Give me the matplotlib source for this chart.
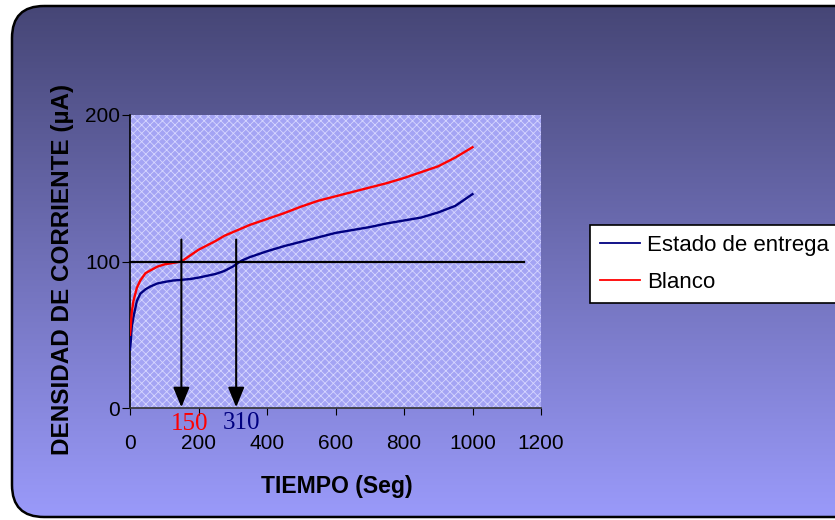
import numpy as np
import matplotlib
matplotlib.use("Agg")
import matplotlib.pyplot as plt
from matplotlib.patches import FancyBboxPatch, Rectangle

# Current density over time for both samples
tiempo = [0, 2, 5, 10, 20, 30, 45, 60, 80, 100, 125, 150, 175, 200, 250, 275,
          300, 325, 350, 400, 450, 500, 550, 600, 650, 700, 750, 800, 850,
          900, 950, 1000]
estado_entrega = [40, 45, 55, 62, 73, 78, 81, 83, 85, 86, 87, 87.5, 88, 89,
                  91.5, 93.5, 96.5, 100.5, 103, 107, 110.5, 113.5, 116.5,
                  119.5, 121.5, 123.5, 126, 128, 130, 133.5, 138, 146]
blanco = [50, 55, 65, 73, 82, 87, 92, 94, 96.5, 98, 99, 100, 104, 108, 114,
          117.5, 120, 122.5, 125, 129, 133, 137.5, 141.5, 144.5, 147.5, 150.5,
          153.5, 157, 161, 165, 171, 178]

series_names = ["Estado de entrega", "Blanco"]
series_colors = ["#000080", "#ff0000"]

x_ticks = [0, 200, 400, 600, 800, 1000, 1200]
y_ticks = [0, 100, 200]

ref_level = 100
ref_end = 1150
cross_times = [150, 310]
cross_colors = ["#ff0000", "#000080"]
arrow_top = 115

W, H = 835, 520
fig = plt.figure(figsize=(W / 100, H / 100), dpi=100)

SANS = ["Liberation Sans", "DejaVu Sans"]
SERIF = ["Liberation Serif", "DejaVu Serif"]

# Rounded gradient panel behind everything
bg = fig.add_axes([0, 0, 1, 1], zorder=-10)
bg.set_xlim(0, W)
bg.set_ylim(H, 0)
bg.axis("off")
top_c = np.array([0x46, 0x46, 0x76]) / 255
bot_c = np.array([0x9a, 0x9a, 0xfa]) / 255
t = np.linspace(0, 1, 256)[:, None]
grad = (top_c[None, :] * (1 - t) + bot_c[None, :] * t)[:, None, :]
grad = np.repeat(grad, 2, axis=1)
panel = FancyBboxPatch((12, 6), 900, 511,
                       boxstyle="round,pad=0,rounding_size=32",
                       facecolor="none", edgecolor="black", linewidth=1.8,
                       zorder=2)
im = bg.imshow(grad, extent=[12, 912, 517, 6], aspect="auto", zorder=1)
bg.add_patch(panel)
im.set_clip_path(panel)

# Plot area with a fine white cross-hatch
left, right = 130 / W, 541 / W
bottom, top = 1 - 408 / H, 1 - 115 / H
ax = fig.add_axes([left, bottom, right - left, top - bottom])
ax.set_xlim(0, 1200)
ax.set_ylim(0, 200)
ax.set_facecolor("#a4a4f4")
plt.rcParams["hatch.linewidth"] = 0.6
ax.add_patch(Rectangle((0, 0), 1, 1, transform=ax.transAxes,
                       facecolor="none", edgecolor="#d6d6ff",
                       hatch="xxxx", linewidth=0, zorder=0))

ax.plot(tiempo, estado_entrega, color=series_colors[0], lw=1.7,
        label=series_names[0], zorder=3)
ax.plot(tiempo, blanco, color=series_colors[1], lw=1.7,
        label=series_names[1], zorder=3)

ax.plot([0, ref_end], [ref_level, ref_level], color="black", lw=1.6,
        zorder=4, clip_on=False)

for xt in cross_times:
    ax.annotate("", xy=(xt, 0.5), xytext=(xt, arrow_top),
                arrowprops=dict(arrowstyle="-|>,head_length=1.1,head_width=0.45",
                                color="black", lw=1.5, mutation_scale=11,
                                shrinkA=0, shrinkB=0), zorder=5)

ax.text(cross_times[0] + 23, -10.6, str(cross_times[0]), color=cross_colors[0],
        family=SERIF, fontsize=18, ha="center", va="center", clip_on=False)
ax.text(cross_times[1] + 17, -10.4, str(cross_times[1]), color=cross_colors[1],
        family=SERIF, fontsize=18, ha="center", va="center", clip_on=False)

for s in ["top", "right"]:
    ax.spines[s].set_visible(False)
ax.spines["left"].set_color("black")
ax.spines["bottom"].set_color("#333333")
ax.spines["left"].set_linewidth(1.2)
ax.spines["bottom"].set_linewidth(1.2)

ax.set_xticks(x_ticks)
ax.set_yticks(y_ticks)
ax.tick_params(axis="x", direction="out", length=5, pad=14, labelsize=15)
ax.tick_params(axis="y", direction="out", length=6, pad=1, labelsize=15)
for lab in ax.get_xticklabels() + ax.get_yticklabels():
    lab.set_family(SANS)

fig.text(62 / W, 1 - 269 / H, "DENSIDAD DE CORRIENTE (µA)", rotation=90,
         ha="center", va="center", fontsize=17.5, fontweight="bold",
         family=SANS)
fig.text(337 / W, 1 - 487 / H, "TIEMPO (Seg)", ha="center", va="center",
         fontsize=16.6, fontweight="bold", family=SANS)

leg = fig.legend(loc="upper left", bbox_to_anchor=(590 / W, 1 - 225 / H),
                 frameon=True, fancybox=False, framealpha=1, edgecolor="black",
                 facecolor="white", borderaxespad=0, borderpad=0.45,
                 labelspacing=0.7, handlelength=1.8, handletextpad=0.3,
                 prop={"family": SANS, "size": 16})
leg.get_frame().set_linewidth(1.2)
for ln in leg.get_lines():
    ln.set_linewidth(1.3)

fig.savefig("out.png", dpi=100)
